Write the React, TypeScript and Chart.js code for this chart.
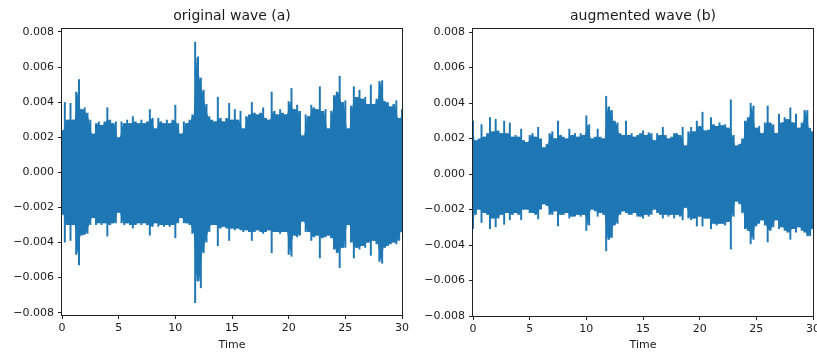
import React, { useEffect, useRef } from "react";
import { Chart, registerables } from "chart.js";

Chart.register(...registerables);

// ---- data (amplitudes in units of 1e-3) ----
const TIME_STEP = 0.25; // seconds between envelope samples
const UNIT = 0.001;
const X_TICKS = [0, 5, 10, 15, 20, 25, 30];
const Y_TICKS = [-0.008, -0.006, -0.004, -0.002, 0, 0.002, 0.004, 0.006, 0.008];
const TITLES = ["original wave (a)", "augmented wave (b)"];
const X_LABEL = "Time";

const ORIG_UPPER = [
  2.4, 4.0, 3.0, 3.95, 3.0, 4.6, 5.3, 3.6, 3.7, 3.4,
  3.0, 2.2, 2.8, 2.9, 2.7, 2.9, 3.7, 3.0, 2.8, 2.9,
  2.0, 2.9, 2.8, 3.0, 2.8, 3.2, 2.9, 2.8, 3.0, 2.8,
  2.9, 3.6, 3.1, 2.5, 3.1, 2.9, 2.8, 3.0, 2.8, 3.0,
  3.85, 2.8, 2.2, 2.9, 2.8, 3.0, 3.3, 7.45, 6.6, 5.4,
  4.7, 3.9, 3.2, 3.0, 2.9, 4.3, 3.1, 2.9, 3.1, 3.95,
  3.0, 3.6, 3.0, 3.5, 2.5, 3.2, 3.3, 4.0, 3.4, 3.3,
  3.4, 3.7, 3.1, 3.0, 4.6, 3.5, 3.3, 3.6, 3.4, 3.3,
  4.05, 4.8, 3.6, 3.85, 3.5, 2.1, 3.3, 3.2, 3.85, 3.7,
  3.6, 4.9, 3.5, 3.6, 2.5, 3.5, 4.4, 4.6, 5.5, 4.0,
  4.1, 2.5, 3.8, 4.9, 4.3, 4.7, 4.2, 4.3, 3.9, 5.0,
  3.9, 4.2, 5.2, 5.25, 4.05, 4.0, 3.75, 3.9, 4.1, 3.1,
  3.6,
];
const ORIG_LOWER = [
  -2.4, -4.0, -3.0, -3.9, -3.0, -4.7, -5.3, -3.6, -3.55, -3.5,
  -3.0, -2.6, -3.0, -2.9, -3.0, -2.9, -3.65, -3.0, -2.9, -2.9,
  -2.3, -2.9, -3.0, -2.9, -3.0, -3.2, -3.0, -2.9, -3.0, -2.9,
  -3.0, -3.6, -3.1, -2.9, -3.1, -3.0, -3.1, -3.0, -3.1, -3.0,
  -3.75, -2.9, -2.6, -2.9, -2.9, -3.0, -3.5, -7.45, -6.2, -6.6,
  -4.6, -4.0, -3.4, -3.0, -3.0, -4.2, -3.2, -3.1, -3.2, -3.9,
  -3.2, -3.3, -3.2, -3.3, -3.4, -3.3, -3.4, -3.9, -3.4, -3.3,
  -3.4, -3.5, -3.4, -3.3, -4.6, -3.4, -3.4, -3.5, -3.4, -3.4,
  -4.7, -4.8, -3.6, -3.7, -3.6, -2.8, -3.4, -3.4, -3.9, -3.7,
  -3.6, -4.9, -3.75, -3.7, -3.6, -3.75, -4.4, -4.6, -5.45, -4.3,
  -4.3, -3.0, -4.0, -4.9, -4.3, -4.4, -4.2, -4.3, -4.0, -4.75,
  -3.9, -4.1, -5.1, -5.2, -4.3, -4.2, -4.1, -4.0, -4.1, -3.9,
  -3.4,
];
const AUG_UPPER = [
  3.0, 1.9, 2.0, 2.8, 2.1, 2.3, 3.2, 2.4, 3.1, 2.45,
  2.3, 3.0, 2.3, 2.9, 2.1, 2.2, 2.1, 2.55, 1.9, 1.8,
  2.2, 2.3, 2.1, 2.65, 2.0, 1.5, 1.7, 2.3, 2.4, 2.0,
  3.0, 2.2, 2.1, 2.0, 2.55, 2.2, 2.3, 2.1, 2.3, 2.2,
  3.3, 2.8, 2.0, 2.1, 2.55, 2.1, 2.0, 4.4, 3.8, 3.6,
  3.0, 2.9, 2.3, 2.2, 3.0, 2.2, 2.3, 2.1, 2.2, 2.3,
  2.45, 2.2, 2.35, 2.3, 1.9, 2.3, 2.2, 2.65, 2.2, 2.0,
  2.1, 2.3, 2.3, 2.2, 2.65, 1.6, 2.4, 2.65, 2.4, 3.0,
  2.7, 3.5, 2.45, 2.5, 3.2, 2.8, 2.7, 2.9, 2.75, 2.8,
  2.6, 4.2, 2.2, 1.6, 1.7, 2.0, 3.0, 3.2, 4.0, 3.85,
  2.6, 2.7, 2.3, 2.9, 3.85, 2.9, 2.8, 2.3, 3.4, 2.9,
  3.2, 3.1, 3.75, 2.9, 3.4, 2.6, 2.9, 3.6, 3.6, 2.6,
  2.4,
];
const AUG_LOWER = [
  -3.1, -2.3, -2.0, -2.75, -2.2, -2.3, -3.1, -2.5, -3.0, -2.5,
  -2.3, -2.85, -2.2, -2.6, -2.3, -2.2, -2.3, -2.6, -2.0, -2.0,
  -2.2, -2.2, -2.3, -2.55, -2.0, -1.7, -1.8, -2.3, -2.3, -2.1,
  -2.95, -2.3, -2.3, -2.2, -2.5, -2.4, -2.4, -2.3, -2.4, -2.3,
  -3.2, -2.9, -2.0, -2.1, -2.4, -2.2, -2.3, -4.35, -3.7, -3.6,
  -2.9, -2.8, -2.3, -2.1, -2.2, -2.3, -2.3, -2.2, -2.4, -2.4,
  -2.5, -2.3, -2.4, -2.3, -2.0, -2.2, -2.3, -2.5, -2.3, -2.4,
  -2.3, -2.5, -2.3, -2.4, -2.6, -1.9, -2.5, -2.6, -2.5, -2.95,
  -2.4, -2.95, -2.5, -2.5, -3.1, -2.8, -2.9, -2.8, -2.8, -2.9,
  -2.7, -4.25, -2.4, -1.55, -1.7, -2.2, -3.1, -3.2, -3.95, -3.7,
  -2.95, -2.8, -2.6, -2.9, -3.85, -3.2, -3.0, -2.6, -3.1, -3.0,
  -3.2, -3.3, -3.7, -3.1, -3.3, -3.0, -3.2, -3.3, -3.5, -3.5,
  -3.1,
];

const BLUE = "#1f77b4";
const TEXT = "#1a1a1a";
const FONT = "'DejaVu Sans', sans-serif";

function fmtY(v: number): string {
  const s = Math.abs(v).toFixed(3);
  return v < -1e-12 ? "\u2212" + s : s;
}

// vertical extent of the signal in each time slot
function toBars(upper: number[], lower: number[]) {
  return upper.map((u, i) => ({ x: i * TIME_STEP, y: [lower[i] * UNIT, u * UNIT] }));
}

// dense body between neighbouring slots (the smaller of the two neighbours)
function toBody(arr: number[], positive: boolean) {
  const pts: { x: number; y: number }[] = [{ x: 0, y: arr[0] * UNIT }];
  for (let i = 0; i < arr.length - 1; i++) {
    const v = positive ? Math.min(arr[i], arr[i + 1]) : Math.max(arr[i], arr[i + 1]);
    pts.push({ x: (i + 0.5) * TIME_STEP, y: v * UNIT });
  }
  pts.push({ x: (arr.length - 1) * TIME_STEP, y: arr[arr.length - 1] * UNIT });
  return pts;
}

type PanelCfg = {
  title: string;
  upper: number[];
  lower: number[];
  left: number;
  width: number;
  yMin: number;
  yMax: number;
  yAxisWidth: number;
  xAxisHeight: number;
  padRight: number;
};

const decorPlugin = {
  id: "decor",
  afterDraw(chart: any, _args: any, opts: any) {
    const { ctx, chartArea } = chart;
    const { left, right, top, bottom } = chartArea;
    ctx.save();
    ctx.strokeStyle = "#222";
    ctx.lineWidth = 1;
    ctx.strokeRect(Math.round(left) - 0.5, Math.round(top) - 0.5, Math.round(right - left) + 1, Math.round(bottom - top) + 1);
    ctx.fillStyle = TEXT;
    ctx.textAlign = "center";
    ctx.textBaseline = "middle";
    ctx.font = `14px ${FONT}`;
    ctx.fillText(opts.title, (left + right) / 2, 16);
    ctx.font = `11px ${FONT}`;
    ctx.fillText(opts.xLabel, (left + right) / 2, 345);
    ctx.restore();
  },
};

function Panel({ cfg }: { cfg: PanelCfg }) {
  const ref = useRef<HTMLCanvasElement | null>(null);
  useEffect(() => {
    if (!ref.current) return;
    const lineCommon = {
      type: "line" as const,
      borderColor: BLUE,
      backgroundColor: BLUE,
      borderWidth: 0,
      pointRadius: 0,
      tension: 0,
    };
    const chart = new Chart(ref.current, {
      type: "bar",
      data: {
        datasets: [
          {
            type: "bar",
            data: toBars(cfg.upper, cfg.lower) as any,
            backgroundColor: BLUE,
            borderWidth: 0,
            barPercentage: 0.7,
            categoryPercentage: 1,
          } as any,
          { ...lineCommon, data: toBody(cfg.upper, true), fill: "+1" } as any,
          { ...lineCommon, data: toBody(cfg.lower, false), fill: false } as any,
        ],
      },
      options: {
        animation: false,
        responsive: false,
        events: [],
        layout: { padding: { left: 0, right: cfg.padRight, top: 29, bottom: 0 } },
        plugins: {
          legend: { display: false },
          tooltip: { enabled: false },
          decor: { title: cfg.title, xLabel: X_LABEL },
        } as any,
        scales: {
          x: {
            type: "linear",
            min: 0,
            max: 30,
            offset: false,
            afterBuildTicks: (s: any) => {
              s.ticks = X_TICKS.map((v) => ({ value: v }));
            },
            afterFit: (s: any) => {
              s.height = cfg.xAxisHeight;
            },
            grid: { offset: false, drawOnChartArea: false, drawTicks: true, tickLength: 4, tickColor: "#222", tickWidth: 1 },
            border: { display: false },
            ticks: {
              padding: 3,
              maxRotation: 0,
              color: TEXT,
              font: { family: FONT, size: 11 },
              callback: (v: any) => String(v),
            },
          },
          y: {
            type: "linear",
            min: cfg.yMin,
            max: cfg.yMax,
            afterBuildTicks: (s: any) => {
              s.ticks = Y_TICKS.map((v) => ({ value: v }));
            },
            afterFit: (s: any) => {
              s.width = cfg.yAxisWidth;
            },
            grid: { drawOnChartArea: false, drawTicks: true, tickLength: 4, tickColor: "#222", tickWidth: 1 },
            border: { display: false },
            ticks: {
              padding: 4,
              color: TEXT,
              font: { family: FONT, size: 11 },
              callback: (v: any) => fmtY(Number(v)),
            },
          },
        },
      },
      plugins: [decorPlugin],
    });
    return () => chart.destroy();
  }, [cfg]);
  return (
    <canvas
      ref={ref}
      width={cfg.width}
      height={353}
      style={{ position: "absolute", left: cfg.left, top: 0, width: cfg.width, height: 353, display: "block" }}
    />
  );
}

const LEFT: PanelCfg = {
  title: TITLES[0],
  upper: ORIG_UPPER,
  lower: ORIG_LOWER,
  left: 0,
  width: 414,
  yMin: -0.00813,
  yMax: 0.00817,
  yAxisWidth: 62,
  xAxisHeight: 38,
  padRight: 12,
};
const RIGHT: PanelCfg = {
  title: TITLES[1],
  upper: AUG_UPPER,
  lower: AUG_LOWER,
  left: 410,
  width: 417,
  yMin: -0.008,
  yMax: 0.00817,
  yAxisWidth: 63,
  xAxisHeight: 37,
  padRight: 14,
};

export default function App() {
  return (
    <div
      style={{
        position: "fixed",
        left: 0,
        top: 0,
        width: 817,
        height: 353,
        overflow: "hidden",
        background: "#fff",
      }}
    >
      <Panel cfg={LEFT} />
      <Panel cfg={RIGHT} />
    </div>
  );
}
